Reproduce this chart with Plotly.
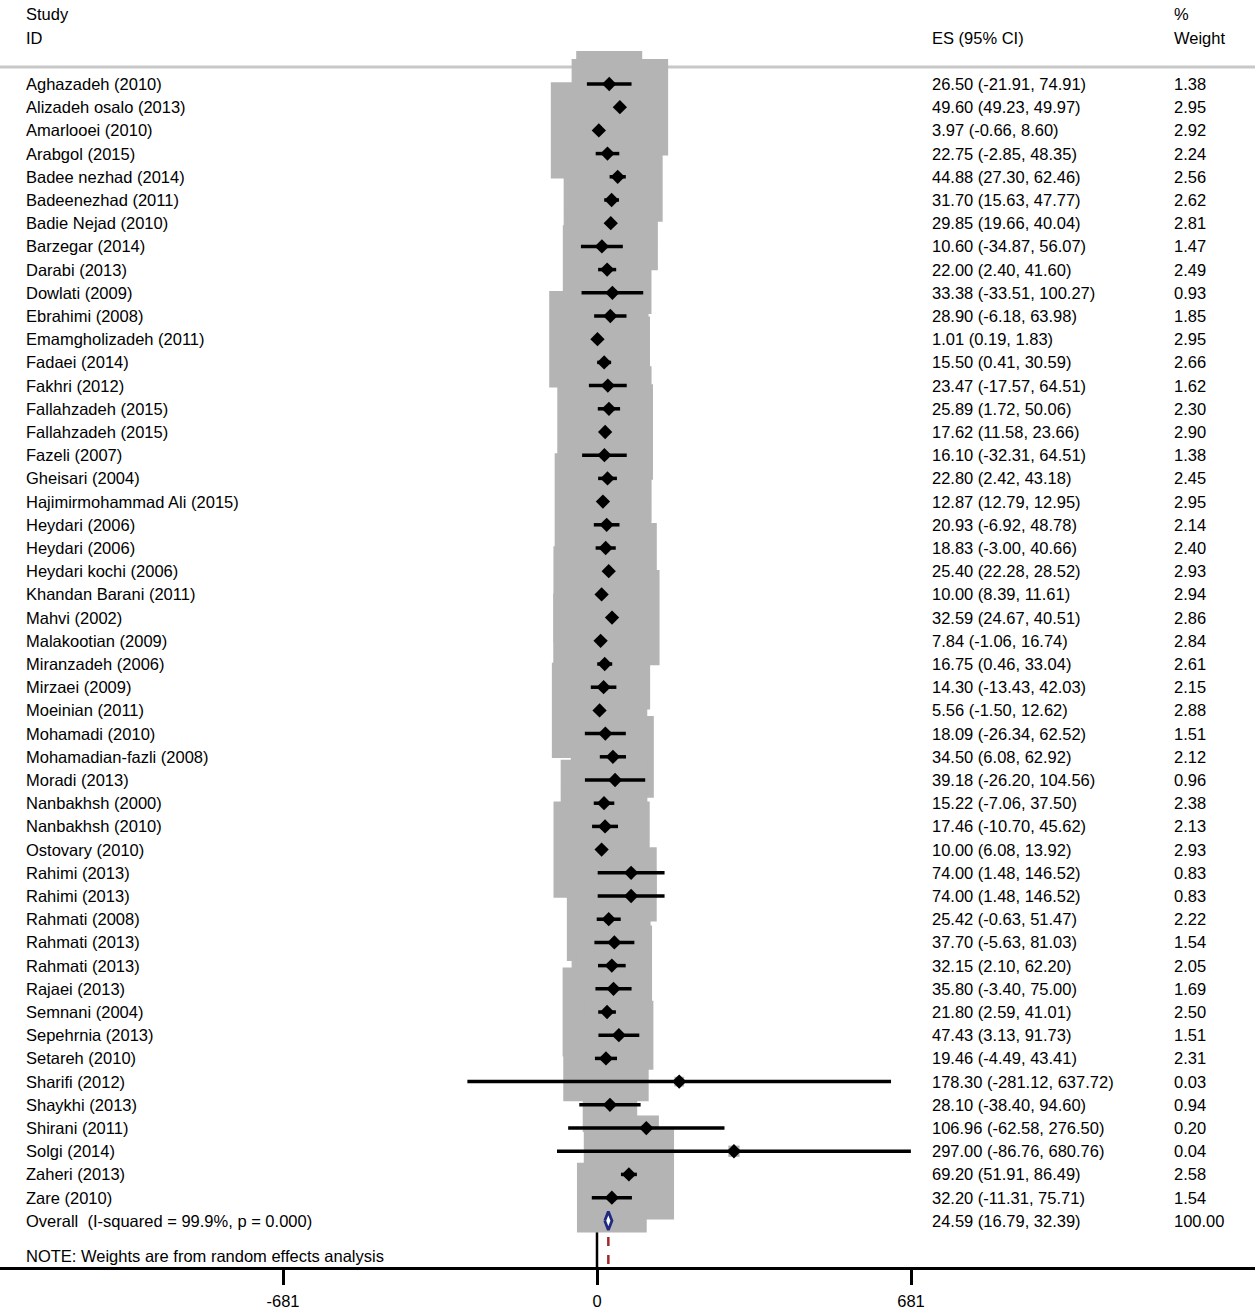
import plotly.graph_objects as go

studies = ["Aghazadeh (2010)", "Alizadeh osalo (2013)", "Amarlooei (2010)", "Arabgol (2015)",
           "Badee nezhad (2014)", "Badeenezhad (2011)", "Badie Nejad (2010)", "Barzegar (2014)",
           "Darabi (2013)", "Dowlati (2009)", "Ebrahimi (2008)", "Emamgholizadeh (2011)",
           "Fadaei (2014)", "Fakhri (2012)", "Fallahzadeh (2015)", "Fallahzadeh (2015)",
           "Fazeli (2007)", "Gheisari (2004)", "Hajimirmohammad Ali (2015)", "Heydari (2006)",
           "Heydari (2006)", "Heydari kochi (2006)", "Khandan Barani (2011)", "Mahvi (2002)",
           "Malakootian (2009)", "Miranzadeh (2006)", "Mirzaei (2009)", "Moeinian (2011)",
           "Mohamadi (2010)", "Mohamadian-fazli (2008)", "Moradi (2013)", "Nanbakhsh (2000)",
           "Nanbakhsh (2010)", "Ostovary (2010)", "Rahimi (2013)", "Rahimi (2013)",
           "Rahmati (2008)", "Rahmati (2013)", "Rahmati (2013)", "Rajaei (2013)",
           "Semnani (2004)", "Sepehrnia (2013)", "Setareh (2010)", "Sharifi (2012)",
           "Shaykhi (2013)", "Shirani (2011)", "Solgi (2014)", "Zaheri (2013)", "Zare (2010)"]
es = [26.50, 49.60, 3.97, 22.75, 44.88, 31.70, 29.85, 10.60, 22.00, 33.38, 28.90, 1.01,
      15.50, 23.47, 25.89, 17.62, 16.10, 22.80, 12.87, 20.93, 18.83, 25.40, 10.00, 32.59,
      7.84, 16.75, 14.30, 5.56, 18.09, 34.50, 39.18, 15.22, 17.46, 10.00, 74.00, 74.00,
      25.42, 37.70, 32.15, 35.80, 21.80, 47.43, 19.46, 178.30, 28.10, 106.96, 297.00, 69.20, 32.20]
lo = [-21.91, 49.23, -0.66, -2.85, 27.30, 15.63, 19.66, -34.87, 2.40, -33.51, -6.18, 0.19,
      0.41, -17.57, 1.72, 11.58, -32.31, 2.42, 12.79, -6.92, -3.00, 22.28, 8.39, 24.67,
      -1.06, 0.46, -13.43, -1.50, -26.34, 6.08, -26.20, -7.06, -10.70, 6.08, 1.48, 1.48,
      -0.63, -5.63, 2.10, -3.40, 2.59, 3.13, -4.49, -281.12, -38.40, -62.58, -86.76, 51.91, -11.31]
hi = [74.91, 49.97, 8.60, 48.35, 62.46, 47.77, 40.04, 56.07, 41.60, 100.27, 63.98, 1.83,
      30.59, 64.51, 50.06, 23.66, 64.51, 43.18, 12.95, 48.78, 40.66, 28.52, 11.61, 40.51,
      16.74, 33.04, 42.03, 12.62, 62.52, 62.92, 104.56, 37.50, 45.62, 13.92, 146.52, 146.52,
      51.47, 81.03, 62.20, 75.00, 41.01, 91.73, 43.41, 637.72, 94.60, 276.50, 680.76, 86.49, 75.71]
weight = [1.38, 2.95, 2.92, 2.24, 2.56, 2.62, 2.81, 1.47, 2.49, 0.93, 1.85, 2.95, 2.66, 1.62,
          2.30, 2.90, 1.38, 2.45, 2.95, 2.14, 2.40, 2.93, 2.94, 2.86, 2.84, 2.61, 2.15, 2.88,
          1.51, 2.12, 0.96, 2.38, 2.13, 2.93, 0.83, 0.83, 2.22, 1.54, 2.05, 1.69, 2.50, 1.51,
          2.31, 0.03, 0.94, 0.20, 0.04, 2.58, 1.54]
overall_label = "Overall  (I-squared = 99.9%, p = 0.000)"
overall_es, overall_lo, overall_hi, overall_w = 24.59, 16.79, 32.39, 100.00
tick_vals = [-681, 0, 681]
tick_text = ["-681", "0", "681"]

FONT = "Liberation Sans, Arial, sans-serif"
FS = 16.5
W, H = 1255, 1310
n = len(studies)
rows = list(range(n))
overall_row = n
axis_bottom = 50.99
axis_top = -3.62

fig = go.Figure()

# null line and overall line (under boxes)
fig.add_trace(go.Scatter(x=[0, 0], y=[-0.73, axis_bottom], mode="lines",
                         line=dict(color="black", width=2.5), hoverinfo="skip", showlegend=False))
fig.add_trace(go.Scatter(x=[overall_es, overall_es], y=[-0.73, axis_bottom], mode="lines",
                         line=dict(color="#a0282d", width=2.5, dash="dash"),
                         hoverinfo="skip", showlegend=False))

# weight boxes
box_sizes = [56.2 * (w ** 0.5) for w in weight]
fig.add_trace(go.Scatter(x=es, y=rows, mode="markers",
                         marker=dict(symbol="square", size=box_sizes, color="#b4b4b4",
                                     opacity=1, line=dict(width=0)),
                         hoverinfo="skip", showlegend=False))

# CI lines
cx, cy = [], []
for i in range(n):
    cx += [lo[i], hi[i], None]
    cy += [i, i, None]
fig.add_trace(go.Scatter(x=cx, y=cy, mode="lines", line=dict(color="black", width=3.5),
                         hoverinfo="skip", showlegend=False))

# point estimates
fig.add_trace(go.Scatter(x=es, y=rows, mode="markers",
                         marker=dict(symbol="diamond", size=11, color="black", opacity=1),
                         hoverinfo="skip", showlegend=False))

# overall diamond
fig.add_trace(go.Scatter(x=[overall_lo, overall_es, overall_hi, overall_es, overall_lo],
                         y=[overall_row, overall_row - 0.4, overall_row, overall_row + 0.4, overall_row],
                         mode="lines", fill="toself", fillcolor="white",
                         line=dict(color="#1f2a80", width=2.8),
                         hoverinfo="skip", showlegend=False))

# header line
fig.add_shape(type="line", xref="paper", x0=0, x1=1, yref="y", y0=-0.73, y1=-0.73,
              line=dict(color="#c8c8c8", width=3), layer="below")

ann = []
def txt(xpx, y, s):
    ann.append(dict(x=(xpx - 1) / W, xref="paper", y=y, yref="y", text=s, showarrow=False,
                    xanchor="left", yanchor="middle", font=dict(family=FONT, size=FS, color="black")))

txt(25, -3, "Study")
txt(25, -2, "ID")
txt(931, -2, "ES (95% CI)")
txt(1173, -3, "%")
txt(1173, -2, "Weight")
for i in range(n):
    txt(25, i, studies[i])
    txt(931, i, f"{es[i]:.2f} ({lo[i]:.2f}, {hi[i]:.2f})")
    txt(1173, i, f"{weight[i]:.2f}")
txt(25, overall_row, overall_label)
txt(931, overall_row, f"{overall_es:.2f} ({overall_lo:.2f}, {overall_hi:.2f})")
txt(1173, overall_row, f"{overall_w:.2f}")
txt(25, overall_row + 1.5, "NOTE: Weights are from random effects analysis")

scale = 314 / 681.0
fig.update_layout(
    width=W, height=H,
    margin=dict(l=0, r=0, t=0, b=43),
    plot_bgcolor="white", paper_bgcolor="white",
    annotations=ann,
    xaxis=dict(range=[-597 / scale, (W - 597) / scale], showgrid=False, zeroline=False,
               showline=True, linecolor="black", linewidth=2.5,
               tickmode="array", tickvals=tick_vals, ticktext=tick_text,
               ticks="outside", ticklen=15, tickwidth=2.5, tickcolor="black",
               ticklabelstandoff=2,
               tickfont=dict(family=FONT, size=FS, color="black")),
    yaxis=dict(range=[axis_bottom, axis_top], showgrid=False, zeroline=False,
               showticklabels=False, showline=False),
)

fig.write_html("out.html", config={"displayModeBar": False},
               post_script="document.body.style.margin='0';document.body.style.padding='0';"
                           "document.body.style.overflow='hidden';")
